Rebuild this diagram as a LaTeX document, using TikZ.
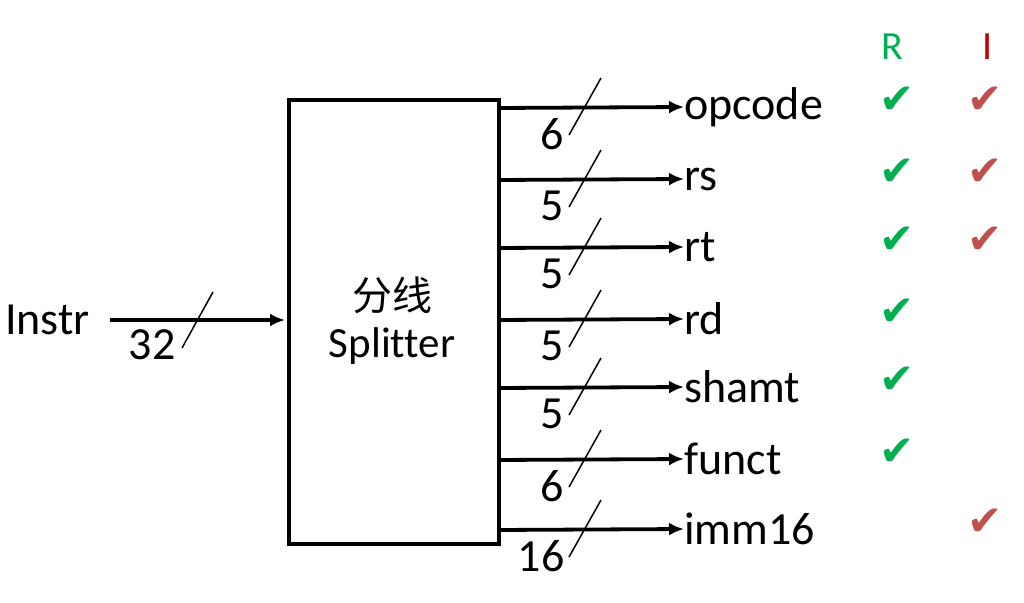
\documentclass[tikz,border=0pt]{standalone}
\usepackage{fontspec}
\setmainfont[Ligatures=NoCommon]{Carlito}
\newfontfamily\cjk{Noto Sans CJK SC}
\newfontfamily\sym{DejaVu Sans}
\usetikzlibrary{arrows.meta}
\definecolor{rgreen}{HTML}{00B050}
\definecolor{ired}{HTML}{C00000}
\definecolor{cred}{HTML}{C0504D}
\tikzset{
  lbl/.style={font=\fontsize{46}{50}\selectfont, inner sep=0pt},
  bus/.style={line width=3.8pt, -{Latex[length=15pt,width=13pt]}},
  slash/.style={line width=1.5pt},
  chk/.style={font=\sym\fontsize{42}{44}\selectfont, inner sep=0pt},
}
\begin{document}
\begin{tikzpicture}[x=1pt,y=-1pt]
\useasboundingbox (0,0) rectangle (1024,602);
% splitter box
\node[draw, line width=3.5pt, minimum width=210pt, minimum height=444pt, inner sep=0pt, anchor=north west] (box) at (287,98) {};
\node[font=\cjk\fontsize{40}{44}\selectfont, inner sep=0pt] (cn) at (392,295) {分线};
\node[font=\fontsize{43}{46}\selectfont, inner sep=0pt] (sp) at (392,346) {Splitter};
% input
\node[lbl, anchor=west] (instr) at (5,320) {Instr};
\coordinate (inS) at (110,320);
\coordinate (inE) at (285,320);
\draw[bus] (inS) -- (inE);
\coordinate (s0a) at (182,348);
\coordinate (s0b) at (213,292);
\draw[slash] (s0a) -- (s0b);
\node[lbl] (n32) at (152,345) {32};
% outputs
\foreach \y/\name/\w/\nx [count=\i] in {108/opcode/6/552, 180/rs/5/552, 248/rt/5/552, 320/rd/5/552, 388/shamt/5/552, 460/funct/6/552, 530/imm16/16/541}{
  \coordinate (o\i s) at (497,\y);
  \node[lbl, anchor=west] (o\i) at (684,\y-1) {\name};
  \draw[bus] (o\i s) -- (o\i.west);
  \coordinate (sl\i a) at (569,\y+27);
  \coordinate (sl\i b) at (601,\y-30);
  \draw[slash] (sl\i a) -- (sl\i b);
  \node[lbl] (w\i) at (\nx,\y+26) {\w};
}
% R / I columns
\node[font=\fontsize{40}{44}\selectfont, text=rgreen, inner sep=0pt] (R) at (892,47) {R};
\node[font=\fontsize{40}{44}\selectfont, text=ired, inner sep=0pt] (I) at (988,47) {I};
\foreach \y [count=\i] in {100,172,240,312,380,452}{
  \node[chk, text=rgreen] (gr\i) at (897,\y) {✔};
}
\foreach \y [count=\i] in {100,172,240,522}{
  \node[chk, text=cred] (rd\i) at (985,\y) {✔};
}
\end{tikzpicture}
\end{document}
